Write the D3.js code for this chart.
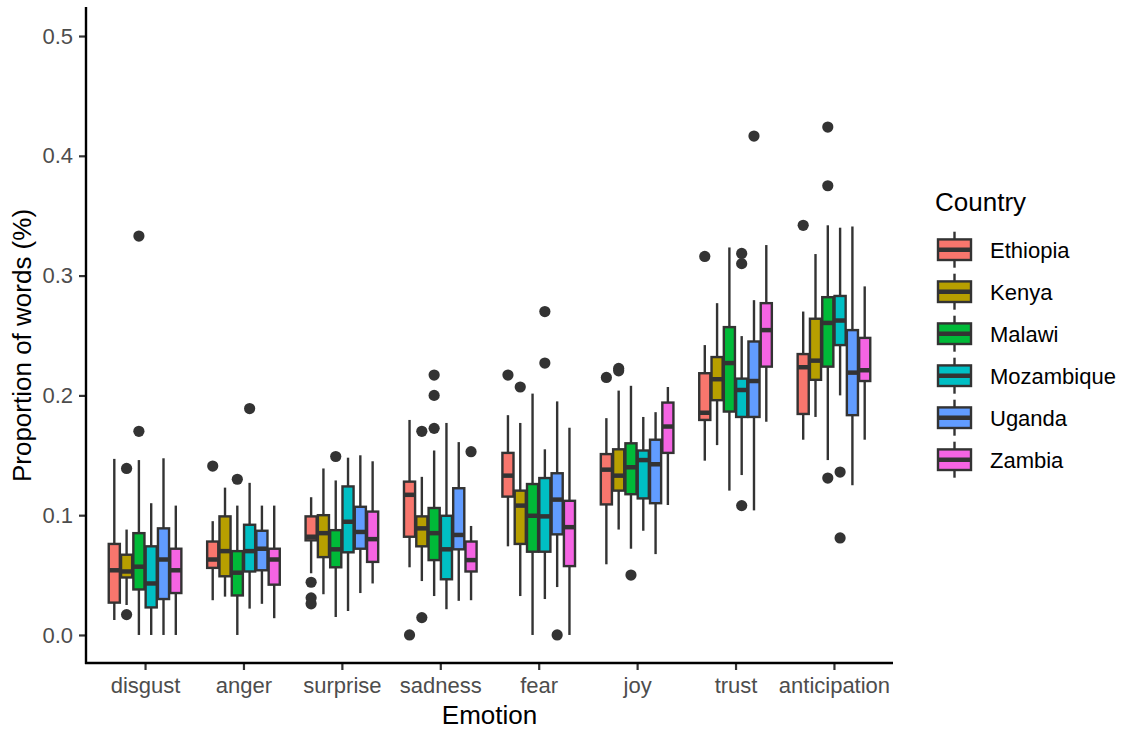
<!DOCTYPE html>
<html>
<head>
<meta charset="utf-8">
<script src="https://cdn.jsdelivr.net/npm/d3@7"></script>
<style>
  body { margin: 0; background: #fff; }
  text { font-family: Arial, "Liberation Sans", sans-serif; }
</style>
</head>
<body>
<script>
// categories
var emotions = ["disgust", "anger", "surprise", "sadness", "fear", "joy", "trust", "anticipation"];
var countries = ["Ethiopia", "Kenya", "Malawi", "Mozambique", "Uganda", "Zambia"];
var yTicks = [0.0, 0.1, 0.2, 0.3, 0.4, 0.5];

// five-number summaries per emotion: [lower whisker, q1, median, q3, upper whisker]
var ethiopia = [
  [0.0125, 0.027, 0.054, 0.076, 0.147],
  [0.029, 0.056, 0.063, 0.078, 0.095],
  [0.0515, 0.079, 0.082, 0.099, 0.115],
  [0.0565, 0.082, 0.117, 0.128, 0.1795],
  [0.074, 0.1155, 0.133, 0.152, 0.1835],
  [0.059, 0.109, 0.138, 0.151, 0.181],
  [0.1455, 0.1795, 0.1855, 0.2185, 0.242],
  [0.163, 0.1845, 0.2235, 0.2345, 0.270]
];
var kenya = [
  [0.025, 0.048, 0.053, 0.067, 0.088],
  [0.032, 0.049, 0.070, 0.099, 0.123],
  [0.034, 0.065, 0.085, 0.100, 0.139],
  [0.045, 0.074, 0.089, 0.099, 0.132],
  [0.0325, 0.076, 0.108, 0.1205, 0.177],
  [0.088, 0.1205, 0.133, 0.155, 0.204],
  [0.1585, 0.196, 0.2135, 0.232, 0.277],
  [0.182, 0.213, 0.229, 0.264, 0.318]
];
var malawi = [
  [0, 0.038, 0.057, 0.085, 0.146],
  [0, 0.033, 0.052, 0.070, 0.108],
  [0.015, 0.0565, 0.0715, 0.0875, 0.129],
  [0.0325, 0.0625, 0.085, 0.106, 0.154],
  [0, 0.0695, 0.0995, 0.126, 0.2015],
  [0.072, 0.1175, 0.140, 0.160, 0.208],
  [0.1205, 0.1865, 0.227, 0.257, 0.3235],
  [0.146, 0.224, 0.2605, 0.282, 0.342]
];
var mozambique = [
  [0, 0.023, 0.043, 0.074, 0.110],
  [0.022, 0.053, 0.070, 0.092, 0.127],
  [0.020, 0.069, 0.0945, 0.124, 0.148],
  [0.0215, 0.0465, 0.0715, 0.0995, 0.177],
  [0.030, 0.0695, 0.099, 0.131, 0.155],
  [0.087, 0.114, 0.146, 0.154, 0.182],
  [0.1335, 0.182, 0.2045, 0.214, 0.2495],
  [0.200, 0.242, 0.2625, 0.283, 0.340]
];
var uganda = [
  [0, 0.030, 0.063, 0.089, 0.1475],
  [0.026, 0.054, 0.072, 0.087, 0.108],
  [0.035, 0.072, 0.086, 0.107, 0.150],
  [0.0285, 0.0715, 0.0835, 0.1225, 0.161],
  [0.040, 0.084, 0.113, 0.135, 0.195],
  [0.0675, 0.110, 0.1425, 0.163, 0.186],
  [0.104, 0.182, 0.212, 0.245, 0.2795],
  [0.125, 0.1835, 0.219, 0.2545, 0.341]
];
var zambia = [
  [0, 0.035, 0.054, 0.072, 0.108],
  [0.014, 0.042, 0.063, 0.072, 0.108],
  [0.043, 0.061, 0.080, 0.103, 0.145],
  [0.029, 0.053, 0.0625, 0.078, 0.091],
  [0, 0.0575, 0.090, 0.112, 0.173],
  [0.1085, 0.152, 0.174, 0.194, 0.207],
  [0.178, 0.224, 0.2545, 0.277, 0.3255],
  [0.163, 0.212, 0.221, 0.248, 0.291]
];

// outliers: [emotion, country, value]
var outliers = [
  ["disgust", "Kenya", 0.139], ["disgust", "Kenya", 0.017],
  ["disgust", "Malawi", 0.170], ["disgust", "Malawi", 0.333],
  ["anger", "Ethiopia", 0.141], ["anger", "Malawi", 0.130], ["anger", "Mozambique", 0.189],
  ["surprise", "Ethiopia", 0.044], ["surprise", "Ethiopia", 0.031], ["surprise", "Ethiopia", 0.026],
  ["surprise", "Malawi", 0.149],
  ["sadness", "Ethiopia", 0.0], ["sadness", "Kenya", 0.170], ["sadness", "Kenya", 0.0145],
  ["sadness", "Malawi", 0.217], ["sadness", "Malawi", 0.200], ["sadness", "Malawi", 0.1725],
  ["sadness", "Zambia", 0.153],
  ["fear", "Ethiopia", 0.217], ["fear", "Kenya", 0.207],
  ["fear", "Mozambique", 0.270], ["fear", "Mozambique", 0.227], ["fear", "Uganda", 0.0],
  ["joy", "Ethiopia", 0.215], ["joy", "Kenya", 0.2225], ["joy", "Kenya", 0.2205], ["joy", "Malawi", 0.050],
  ["trust", "Ethiopia", 0.316], ["trust", "Mozambique", 0.3185], ["trust", "Mozambique", 0.310],
  ["trust", "Mozambique", 0.108], ["trust", "Uganda", 0.4165],
  ["anticipation", "Ethiopia", 0.342], ["anticipation", "Malawi", 0.424], ["anticipation", "Malawi", 0.375],
  ["anticipation", "Malawi", 0.131], ["anticipation", "Mozambique", 0.136], ["anticipation", "Mozambique", 0.081]
];

var statsByCountry = [ethiopia, kenya, malawi, mozambique, uganda, zambia];
var palette = ["#F8766D", "#B79F00", "#00BA38", "#00BFC4", "#619CFF", "#F564E3"];

var boxes = [];
countries.forEach(function(c, ci) {
  emotions.forEach(function(e, ei) {
    var s = statsByCountry[ci][ei];
    boxes.push({emotion: e, country: c, lo: s[0], q1: s[1], med: s[2], q3: s[3], hi: s[4]});
  });
});

var W = 1125, H = 732;
var plotLeft = 86, plotRight = 893, plotTop = 8, plotBottom = 663;

var svg = d3.select("body").append("svg").attr("width", W).attr("height", H);

var x = d3.scalePoint().domain(emotions).range([plotLeft, plotRight]).padding(0.6);
var dodge = d3.scaleBand().domain(countries).range([-x.step() * 0.375, x.step() * 0.375]);
var y = d3.scaleLinear().domain([-0.0234, 0.5234]).range([plotBottom, plotTop]);
var color = d3.scaleOrdinal().domain(countries).range(palette);

var dark = "#333333";
var bw = dodge.bandwidth();

var g = svg.selectAll("g.box")
  .data(boxes)
  .enter().append("g")
  .attr("class", "box")
  .attr("transform", function(d) { return "translate(" + (x(d.emotion) + dodge(d.country) + bw / 2) + ",0)"; });

g.append("line").attr("x1", 0).attr("x2", 0)
  .attr("y1", function(d) { return y(d.hi); }).attr("y2", function(d) { return y(d.q3); })
  .attr("stroke", dark).attr("stroke-width", 2.4);
g.append("line").attr("x1", 0).attr("x2", 0)
  .attr("y1", function(d) { return y(d.q1); }).attr("y2", function(d) { return y(d.lo); })
  .attr("stroke", dark).attr("stroke-width", 2.4);
g.append("rect")
  .attr("x", -bw / 2 + 0.6).attr("width", bw - 1.2)
  .attr("y", function(d) { return y(d.q3); })
  .attr("height", function(d) { return y(d.q1) - y(d.q3); })
  .attr("fill", function(d) { return color(d.country); })
  .attr("stroke", dark).attr("stroke-width", 2.4);
g.append("line").attr("x1", -bw / 2 + 0.6).attr("x2", bw / 2 - 0.6)
  .attr("y1", function(d) { return y(d.med); }).attr("y2", function(d) { return y(d.med); })
  .attr("stroke", dark).attr("stroke-width", 4.5);

svg.selectAll("circle.out")
  .data(outliers)
  .enter().append("circle")
  .attr("class", "out")
  .attr("cx", function(d) { return x(d[0]) + dodge(d[1]) + bw / 2; })
  .attr("cy", function(d) { return y(d[2]); })
  .attr("r", 5.6)
  .attr("fill", dark);

// axes
var yAxis = svg.append("g").attr("transform", "translate(" + plotLeft + ",0)")
  .call(d3.axisLeft(y).tickValues(yTicks).tickFormat(d3.format(".1f")).tickSizeOuter(0).tickSize(7).tickPadding(6));
var xAxis = svg.append("g").attr("transform", "translate(0," + plotBottom + ")")
  .call(d3.axisBottom(x).tickSizeOuter(0).tickSize(7).tickPadding(6));

[yAxis, xAxis].forEach(function(ax) {
  ax.select(".domain").remove();
  ax.selectAll(".tick line").attr("stroke", dark).attr("stroke-width", 2.2);
  ax.selectAll(".tick text").attr("fill", "#4D4D4D").attr("font-size", 22).attr("font-family", "Arial, 'Liberation Sans', sans-serif");
});
xAxis.selectAll(".tick text").attr("dy", "0.75em");

svg.append("line").attr("x1", plotLeft).attr("x2", plotLeft).attr("y1", plotTop - 1).attr("y2", plotBottom + 1)
  .attr("stroke", "#000").attr("stroke-width", 2.4);
svg.append("line").attr("x1", plotLeft - 1).attr("x2", plotRight).attr("y1", plotBottom).attr("y2", plotBottom)
  .attr("stroke", "#000").attr("stroke-width", 2.4);

// axis titles
svg.append("text").attr("x", (plotLeft + plotRight) / 2).attr("y", 724)
  .attr("text-anchor", "middle").attr("font-size", 26).attr("fill", "#000").text("Emotion");
svg.append("text").attr("transform", "translate(31," + ((plotTop + plotBottom) / 2 + 10) + ") rotate(-90)")
  .attr("text-anchor", "middle").attr("font-size", 26).attr("fill", "#000").text("Proportion of words (%)");

// legend
var lg = svg.append("g").attr("transform", "translate(937,0)");
lg.append("text").attr("x", -2).attr("y", 211).attr("font-size", 26).attr("fill", "#000").text("Country");
var ly = d3.scalePoint().domain(countries).range([249.7, 459.7]);
var key = lg.selectAll("g.key").data(countries).enter().append("g")
  .attr("class", "key")
  .attr("transform", function(d) { return "translate(0," + ly(d) + ")"; });
key.append("line").attr("x1", 17.5).attr("x2", 17.5).attr("y1", -18).attr("y2", 18)
  .attr("stroke", dark).attr("stroke-width", 2.4);
key.append("rect").attr("x", 1).attr("y", -10.3).attr("width", 33).attr("height", 20.6)
  .attr("fill", function(d) { return color(d); }).attr("stroke", dark).attr("stroke-width", 2.4);
key.append("line").attr("x1", 1).attr("x2", 34).attr("y1", 0).attr("y2", 0)
  .attr("stroke", dark).attr("stroke-width", 4.5);
key.append("text").attr("x", 53).attr("y", 7.8).attr("font-size", 22).attr("fill", "#000").text(function(d) { return d; });
</script>
</body>
</html>
